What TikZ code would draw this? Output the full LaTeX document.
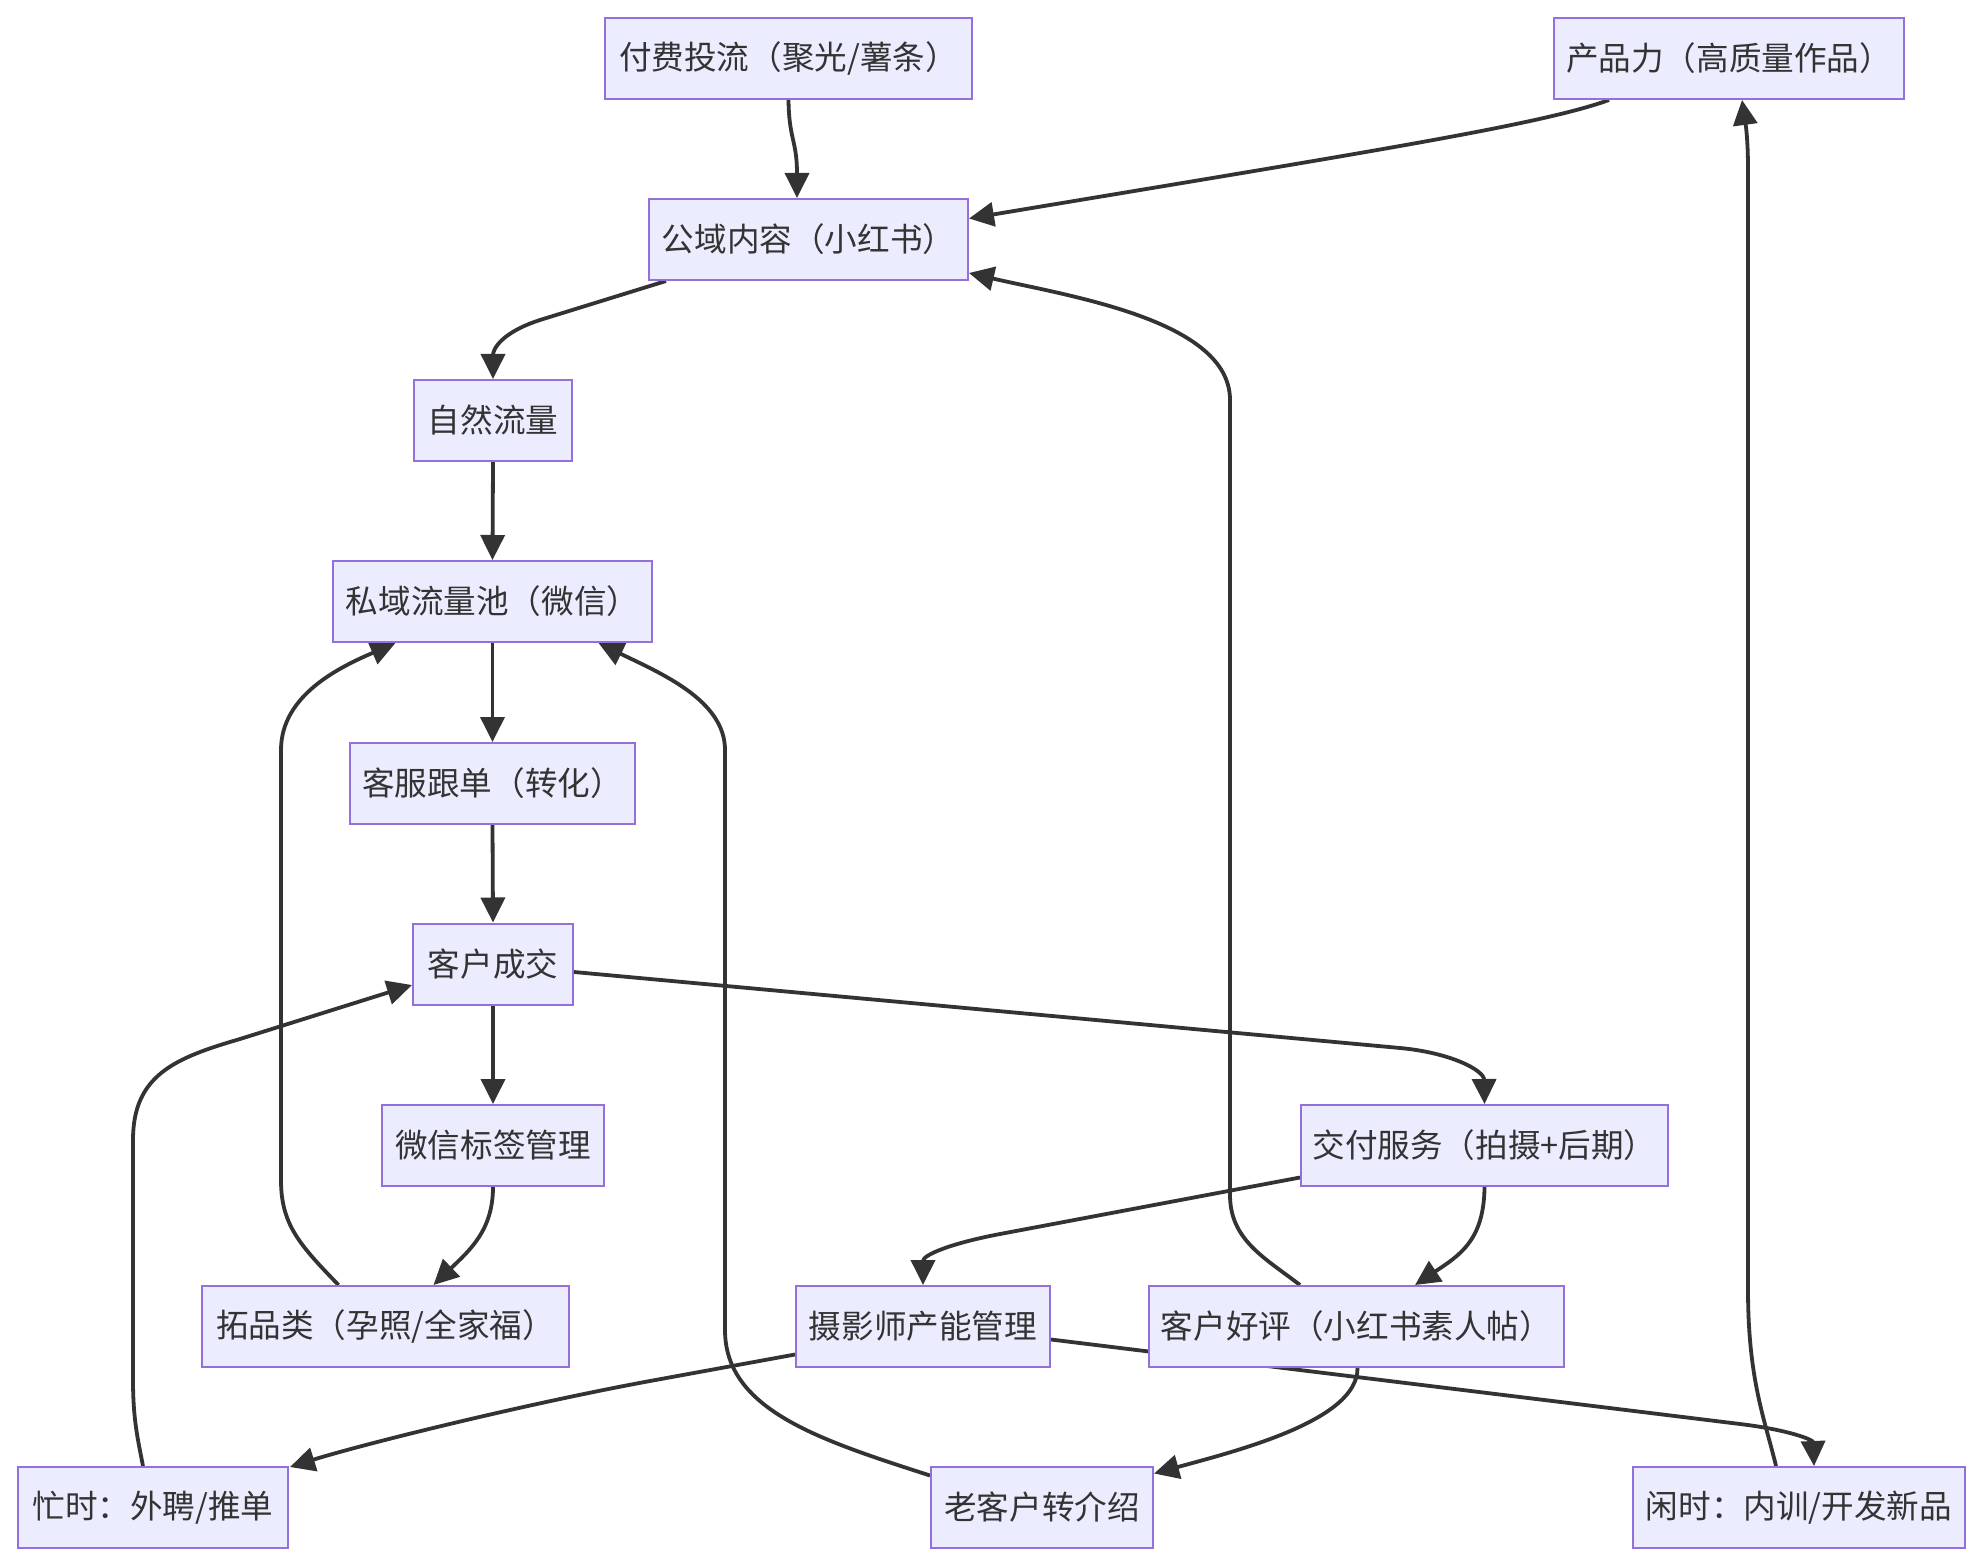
\documentclass[tikz,border=0pt]{standalone}
\usepackage{fontspec}
\setmainfont{Noto Sans CJK SC}
\usetikzlibrary{arrows.meta,calc}
\definecolor{nodefill}{HTML}{ECECFF}
\definecolor{nodeline}{HTML}{9370DB}
\definecolor{edgecol}{HTML}{333333}
\pgfdeclarelayer{bglayer}
\pgfdeclarelayer{edgelayer}
\pgfsetlayers{bglayer,edgelayer,main}
\begin{document}
\begin{tikzpicture}[x=0.5pt,y=-0.5pt,
  box/.style={draw=nodeline, fill=nodefill, line width=1pt, minimum height=40.5pt,
    inner sep=0pt, text=edgecol, font=\fontsize{16.3pt}{19pt}\selectfont},
  flow/.style={draw=edgecol, line width=1.9pt, -{Triangle[length=12.5pt,width=12pt]}}]
\useasboundingbox (0,0) rectangle (1984,1566);
\begin{pgfonlayer}{bglayer}
\fill[white] (0,0) rectangle (1984,1566);
\end{pgfonlayer}

\node[box,minimum width=183.5pt] (A) at (788.5,58.5) {付费投流（聚光/薯条）};
\node[box,minimum width=175pt]   (B) at (1729,58.5) {产品力（高质量作品）};
\node[box,minimum width=159.5pt] (C) at (808.5,239.5) {公域内容（小红书）};
\node[box,minimum width=79pt]    (D) at (493,420.5) {自然流量};
\node[box,minimum width=159.5pt] (E) at (492.5,601.5) {私域流量池（微信）};
\node[box,minimum width=142.5pt] (F) at (492.5,783.5) {客服跟单（转化）};
\node[box,minimum width=80pt]    (G) at (493,964) {客户成交};
\node[box,minimum width=111pt]   (H) at (493,1145.5) {微信标签管理};
\node[box,minimum width=183.5pt] (I) at (1484.5,1145.5) {交付服务（拍摄+后期）};
\node[box,minimum width=183.5pt] (J) at (385.5,1326.5) {拓品类（孕照/全家福）};
\node[box,minimum width=127pt]   (K) at (923,1326.5) {摄影师产能管理};
\node[box,minimum width=207.5pt] (L) at (1356.5,1326.5) {客户好评（小红书素人帖）};
\node[box,minimum width=135pt]   (M) at (153,1507.5) {忙时：外聘/推单};
\node[box,minimum width=111pt]   (N) at (1042,1507.5) {老客户转介绍};
\node[box,minimum width=166pt]   (O) at (1799,1507.5) {闲时：内训/开发新品};

\begin{pgfonlayer}{edgelayer}
% A -> C
\draw[flow] (A.south) .. controls (789,140) and (797,140) .. ($(C.north)+(-11.5,0)$);
% B -> C
\draw[flow] ($(B.south)+(-120,0)$) .. controls (1540,125) and (1368,152) .. ($(C.east)+(0,-21)$);
% C -> D
\draw[flow] ($(C.south west)+(18,0)$) -- (540,320) .. controls (500,333) and (493,350) .. (D.north);
% straight chain
\draw[flow] (D.south) -- (E.north);
\draw[flow] (E.south) -- (F.north);
\draw[flow] (F.south) -- (G.north);
\draw[flow] (G.south) -- (H.north);
% G -> I
\draw[flow] ($(G.east)+(0,8)$) -- (1400,1048) .. controls (1450,1052.6) and (1484,1070) .. (I.north);
% H -> J
\draw[flow] (H.south) .. controls (493,1230) and (470,1250) .. ($(J.north)+(48,0)$);
% J -> E
\draw[flow] ($(J.north)+(-47,0)$) .. controls (300,1245) and (281,1225) .. (281,1180)
  -- (281,750) .. controls (281,695) and (340,667) .. ($(E.south)+(-97,0)$);
% M -> G
\draw[flow] ($(M.north)+(-10,0)$) .. controls (138,1440) and (133,1420) .. (133,1380)
  -- (133,1140) .. controls (133,1075) and (175,1058) .. (240,1039) -- ($(G.west)+(0,21)$);
% I -> K
\draw[flow] ($(I.west)+(0,32)$) -- (1000,1234) .. controls (950,1243.5) and (923,1255) .. (K.north);
% I -> L
\draw[flow] (I.south) .. controls (1484,1240) and (1460,1255) .. ($(L.north)+(58.5,0)$);
% L -> C
\draw[flow] ($(L.north)+(-56.5,0)$) .. controls (1265,1258) and (1230,1240) .. (1230,1195)
  -- (1230,400) .. controls (1230,320) and (1068,296) .. ($(C.south east)+(0,-8)$);
% K -> M
\draw[flow] ($(K.west)+(0,28)$) -- (650,1381) .. controls (520,1405) and (360,1445) .. ($(M.north east)+(1,1)$);
% K -> O
\draw[flow] ($(K.east)+(0,13)$) -- (1740,1424) .. controls (1790,1430) and (1813,1440) .. ($(O.north)+(15,0)$);
% L -> N
\draw[flow] ($(L.south)+(1,0)$) .. controls (1358,1420) and (1240,1450) .. ($(N.east)+(0,-34)$);
% N -> E
\draw[flow] ($(N.west)+(0,-32)$) .. controls (820,1440) and (725,1410) .. (725,1330)
  -- (725,750) .. controls (725,700) and (660,673) .. ($(E.south)+(106,0)$);
% O -> B
\draw[flow] ($(O.north)+(-23,0)$) .. controls (1765,1420) and (1748,1380) .. (1748,1290)
  -- (1748,170) .. controls (1748,130) and (1744,115) .. ($(B.south)+(13,0)$);
\end{pgfonlayer}
\end{tikzpicture}
\end{document}
